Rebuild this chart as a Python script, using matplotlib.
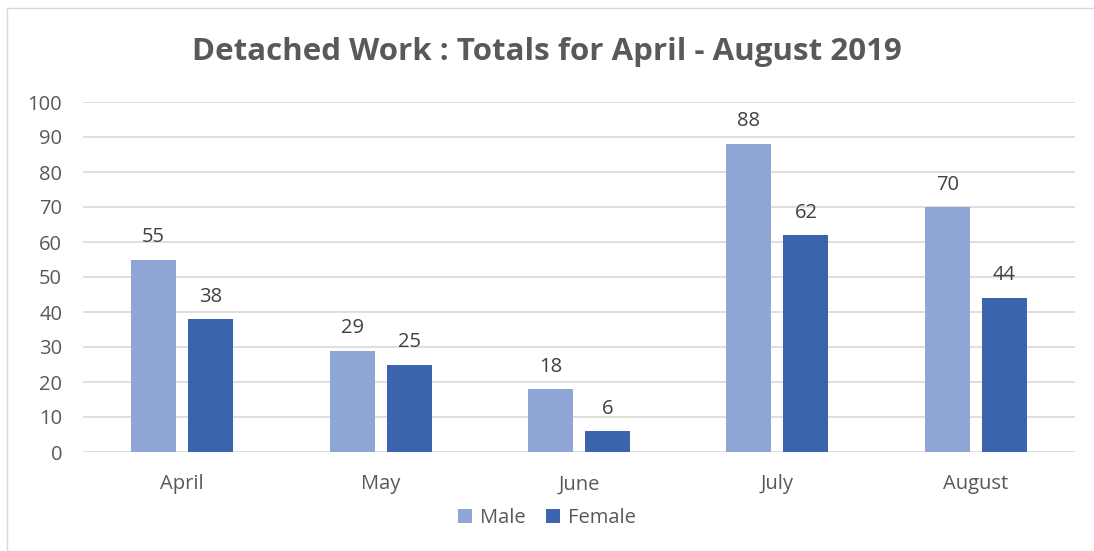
import numpy as np
import matplotlib.pyplot as plt
from matplotlib.patches import Rectangle

# datos
months = ['April', 'May', 'June', 'July', 'August']
male = [55, 29, 18, 88, 70]
female = [38, 25, 6, 62, 44]

c_male = '#8FA5D6'
c_female = '#3B64AD'
txt = '#595959'

plt.rcParams['font.family'] = ['Open Sans', 'DejaVu Sans']

fig = plt.figure(figsize=(10.94, 5.51), dpi=100)
ax = fig.add_axes([83/1094, 1 - 452/551, 992/1094, 350/551])

# marco del gráfico
fig.patches.append(Rectangle((7/1094, 0), 1.0, 1 - 8/551, transform=fig.transFigure,
                             fill=False, edgecolor='#D9D9D9', lw=1.0))

x = np.arange(len(months))
w = 0.227
off = 0.144
b1 = ax.bar(x - off, male, w, color=c_male, label='Male', zorder=3)
b2 = ax.bar(x + off, female, w, color=c_female, label='Female', zorder=3)

for bars in (b1, b2):
    for b in bars:
        ax.annotate(f'{int(b.get_height())}', (b.get_x() + b.get_width()/2, b.get_height()),
                    xytext=(0, 9), textcoords='offset points', ha='center', va='bottom',
                    fontsize=14.5, color='#404040')

ax.set_xlim(-0.5, 4.5)
ax.set_ylim(0, 100)
ax.set_yticks(range(0, 101, 10))
ax.set_xticks(x)
ax.set_xticklabels(months)
ax.yaxis.grid(True, color='#D9D9D9', lw=1.2, zorder=0)
ax.set_axisbelow(True)
for s in ax.spines.values():
    s.set_visible(False)
ax.tick_params(length=0, labelsize=14.5, colors=txt)
ax.tick_params(axis='x', pad=16)
ax.tick_params(axis='y', pad=15)

fig.suptitle('Detached Work : Totals for April - August 2019', x=0.5, y=1 - 52/551,
             va='center', fontsize=22.5, fontweight='bold', color=txt)

fig.legend(loc='center', bbox_to_anchor=(0.5, 1 - 518/551), ncol=2, frameon=False,
           fontsize=14.5, labelcolor=txt, handlelength=0.7, handleheight=0.7,
           columnspacing=1.0, handletextpad=0.4)

fig.savefig('out.png', dpi=100)
